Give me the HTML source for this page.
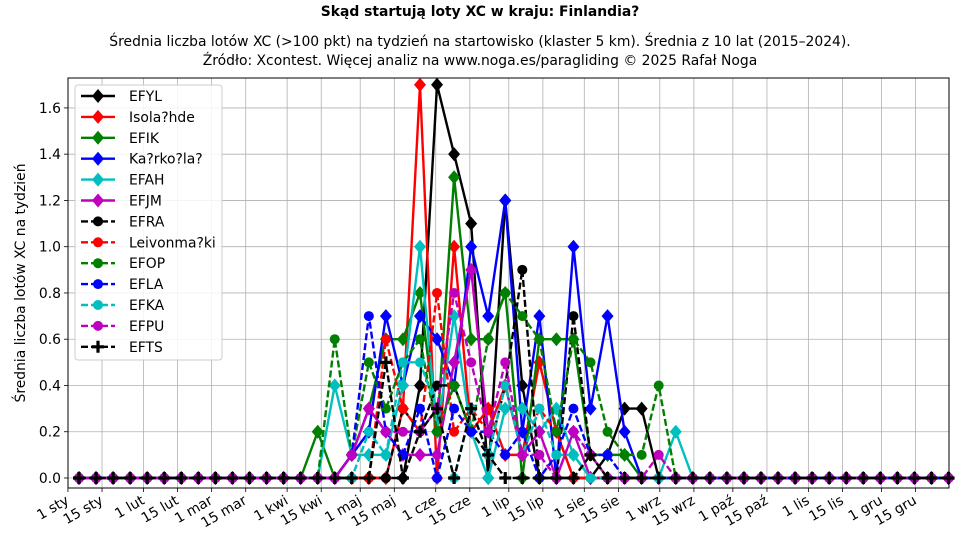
<!DOCTYPE html>
<html><head><meta charset="utf-8"><style>
body{margin:0;background:#fff;}
svg{display:block;font-family:"DejaVu Sans","Liberation Sans",sans-serif;}
</style></head><body>
<svg id="s" width="960" height="540" xmlns="http://www.w3.org/2000/svg">
<text x="480" y="16" text-anchor="middle" font-size="13.9" font-weight="bold">Skąd startują loty XC w kraju: Finlandia?</text>
<text x="480" y="46" text-anchor="middle" font-size="13.9">Średnia liczba lotów XC (&gt;100 pkt) na tydzień na startowisko (klaster 5 km). Średnia z 10 lat (2015–2024).</text>
<text x="480" y="65" text-anchor="middle" font-size="13.9">Źródło: Xcontest. Więcej analiz na www.noga.es/paragliding © 2025 Rafał Noga</text>
<text transform="translate(25,283) rotate(-90)" text-anchor="middle" font-size="13.9">Średnia liczba lotów XC na tydzień</text>
<g id="g"></g>
</svg>
<script>
const NS="http://www.w3.org/2000/svg";
const g=document.getElementById('g');
function el(t,a,txt){const e=document.createElementNS(NS,t);for(const k in a)e.setAttribute(k,a[k]);if(txt!==undefined)e.textContent=txt;g.appendChild(e);return e;}
const L=68,R=949,T=78,B=488;
const X=i=>79+17.05*i, Y=v=>478-v*231.3;
for(let k=0;k<=8;k++){const y=Y(k*0.2);el('line',{x1:L,x2:R,y1:y,y2:y,stroke:'#b0b0b0','stroke-width':0.8});
el('line',{x1:L-4,x2:L,y1:y,y2:y,stroke:'#000','stroke-width':0.8});
el('text',{x:L-7,y:y+5,'text-anchor':'end','font-size':13.9},(k*0.2).toFixed(1));}
const months=['sty','lut','mar','kwi','maj','cze','lip','sie','wrz','paź','lis','gru'];
const mstart=[0,31,59,90,120,151,181,212,243,273,304,334];
months.forEach((m,j)=>{[0,14].forEach(d=>{const day=mstart[j]+d;const x=79+17.05*(day/7-0.65);
el('line',{x1:x,x2:x,y1:T,y2:B,stroke:'#b0b0b0','stroke-width':0.8});
el('line',{x1:x,x2:x,y1:B,y2:B+4,stroke:'#000','stroke-width':0.8});
el('text',{x:x+2,y:B+15,'text-anchor':'end','font-size':13.9,transform:`rotate(-30 ${x+2} ${B+15})`},(d?'15 ':'1 ')+m);});});
function S(o){const a=new Array(52).fill(0);for(const k in o)a[k]=o[k];return a;}
const series=[
['EFYL','#000','-','D',S({20:0.4,21:1.7,22:1.4,23:1.1,24:0,25:1.2,26:0.4,31:0.1,32:0.3,33:0.3})],
['Isola?hde','#f00','-','D',S({19:0.3,20:1.7,21:0,22:1.0,23:0.2,24:0.3,25:0.1,26:0.1,27:0.5,28:0.2})],
['EFIK','#008000','-','D',S({14:0.2,16:0.1,17:0.3,18:0.6,19:0.6,20:0.8,21:0.2,22:1.3,23:0.6,24:0.6,25:0.8,27:0.6,28:0.6,29:0.6,30:0.1,31:0.1,32:0.1})],
['Ka?rko?la?','#00f','-','D',S({16:0.1,17:0.2,18:0.7,19:0.4,20:0.7,21:0.6,22:0.4,23:1.0,24:0.7,25:1.2,26:0.2,27:0.7,29:1.0,30:0.3,31:0.7,32:0.2})],
['EFAH','#00bfbf','-','D',S({15:0.4,16:0.1,17:0.1,18:0.1,19:0.4,20:1.0,21:0.2,22:0.7,23:0.2,25:0.3,26:0.3,27:0.2,28:0.3,29:0.1,35:0.2})],
['EFJM','#bf00bf','-','D',S({16:0.1,17:0.3,18:0.2,19:0.1,20:0.1,21:0.1,22:0.5,23:0.9,24:0.2,25:0.4,26:0.1,27:0.2,29:0.2})],
['EFRA','#000','--','o',S({19:0.3,20:0.2,21:0.4,22:0.4,23:0.2,24:0.1,25:0.4,26:0.9,29:0.7,30:0.1})],
['Leivonma?ki','#f00','--','o',S({18:0.6,19:0.3,20:0.2,21:0.8,22:0.2,23:0.3,24:0.2,25:0.4,26:0.1,27:0.3,28:0.2})],
['EFOP','#008000','--','o',S({15:0.6,16:0.1,17:0.5,18:0.3,19:0.5,20:0.6,21:0.2,22:0.4,23:0.2,24:0.6,25:0.8,26:0.7,27:0.6,28:0.2,29:0.6,30:0.5,31:0.2,32:0.1,33:0.1,34:0.4})],
['EFLA','#00f','--','o',S({16:0.1,17:0.7,18:0.2,19:0.1,20:0.3,22:0.3,23:0.2,24:0.2,25:0.1,26:0.2,28:0.1,29:0.3,30:0.1,31:0.1})],
['EFKA','#00bfbf','--','o',S({17:0.2,18:0.1,19:0.5,20:0.5,21:0.3,23:0.3,24:0.1,25:0.4,26:0.1,27:0.3,28:0.1,29:0.1})],
['EFPU','#bf00bf','--','o',S({16:0.1,17:0.3,18:0.2,19:0.2,20:0.2,21:0.3,22:0.8,23:0.5,24:0.2,25:0.5,26:0.1,27:0.1,29:0.2,30:0.1,34:0.1})],
['EFTS','#000','--','P',S({18:0.5,20:0.2,21:0.3,23:0.3,24:0.1,30:0.1})]
];
function marker(t,x,y,c){
 if(t==='D')el('polygon',{points:`${x},${y-7} ${x+6},${y} ${x},${y+7} ${x-6},${y}`,fill:c});
 else if(t==='o')el('circle',{cx:x,cy:y,r:5,fill:c});
 else{el('path',{d:`M${x-6},${y}H${x+6}M${x},${y-6}V${y+6}`,stroke:c,'stroke-width':3.2});}
}
series.forEach(s=>{const [n,c,ls,m,d]=s;
 el('polyline',{points:d.map((v,i)=>X(i)+','+Y(v)).join(' '),fill:'none',stroke:c,'stroke-width':2.4,'stroke-dasharray':ls==='--'?'7,3':'none','stroke-linejoin':'round'});
 d.forEach((v,i)=>marker(m,X(i),Y(v),c));});
el('rect',{x:L,y:T,width:R-L,height:B-T,fill:'none',stroke:'#000','stroke-width':1});
el('rect',{x:75,y:85,width:147,height:275,fill:'#fff','fill-opacity':0.85,stroke:'#ccc',rx:3});
series.forEach((s,k)=>{const [n,c,ls,m]=s;const y=96+k*20.9;
 el('line',{x1:81,x2:115,y1:y,y2:y,stroke:c,'stroke-width':2.4,'stroke-dasharray':ls==='--'?'7,3':'none'});
 marker(m,98,y,c);
 el('text',{x:129,y:y+5,'font-size':13.9},n);});
</script>
</body></html>
